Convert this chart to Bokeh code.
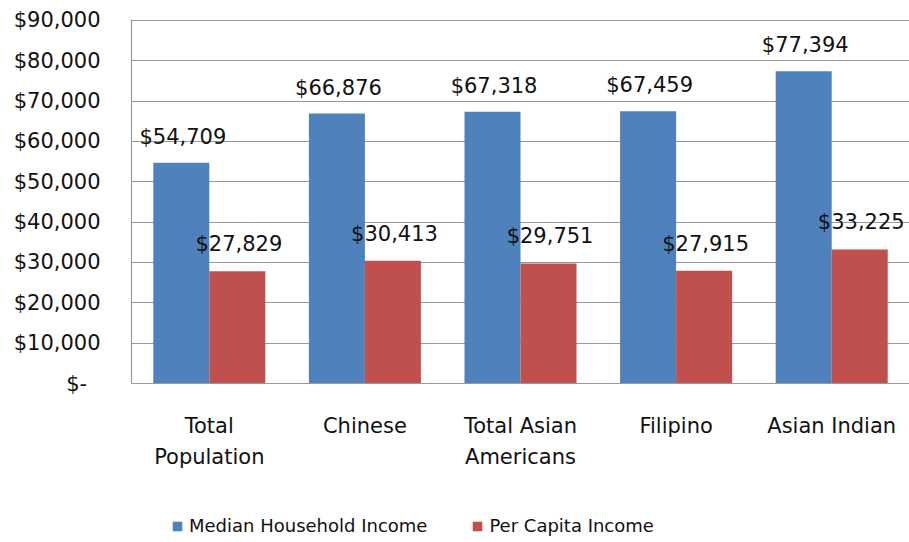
from bokeh.plotting import figure
from bokeh.layouts import column
from bokeh.models import ColumnDataSource, FactorRange, Legend, LegendItem
from bokeh.transform import dodge
from bokeh.embed import file_html
from bokeh.resources import INLINE

categories = ["Total\nPopulation", "Chinese", "Total Asian\nAmericans", "Filipino", "Asian Indian"]
median_household = [54709, 66876, 67318, 67459, 77394]
per_capita = [27829, 30413, 29751, 27915, 33225]
series_names = ["Median Household Income", "Per Capita Income"]
y_ticks = [0, 10000, 20000, 30000, 40000, 50000, 60000, 70000, 80000, 90000]
y_tick_labels = ["$-\u00a0\u00a0", "$10,000", "$20,000", "$30,000", "$40,000", "$50,000",
                 "$60,000", "$70,000", "$80,000", "$90,000"]

FONT = "DejaVu Sans"
BLUE = "#4F81BD"
RED = "#C0504D"

src = ColumnDataSource(dict(
    cat=categories,
    mhi=median_household,
    pci=per_capita,
    mhi_lbl=["${:,}".format(v) for v in median_household],
    pci_lbl=["${:,}".format(v) for v in per_capita],
))

p = figure(width=909, height=490, x_range=FactorRange(*categories, range_padding=0),
           y_range=(0, 90200), output_backend="svg", toolbar_location=None,
           min_border_left=131, min_border_right=0, min_border_top=19, min_border_bottom=107)
p.x_range.factor_padding = 0

bw = 0.36
p.vbar(x=dodge("cat", -bw / 2, range=p.x_range), top="mhi", width=bw, source=src,
       fill_color=BLUE, line_color=None)
p.vbar(x=dodge("cat", bw / 2, range=p.x_range), top="pci", width=bw, source=src,
       fill_color=RED, line_color=None)

p.text(x=dodge("cat", -bw / 2 + 0.01, range=p.x_range), y="mhi", text="mhi_lbl", source=src,
       text_align="center", text_baseline="middle", y_offset=-26,
       text_font={"value": FONT}, text_font_size="21px", text_color="#111111")
p.text(x=dodge("cat", bw / 2 + 0.01, range=p.x_range), y="pci", text="pci_lbl", source=src,
       text_align="center", text_baseline="middle", y_offset=-27,
       text_font={"value": FONT}, text_font_size="21px", text_color="#111111")

p.outline_line_color = None
p.xgrid.grid_line_color = None
p.ygrid.grid_line_color = "#9a9a9a"
p.ygrid.grid_line_width = 1.2
p.yaxis.ticker = y_ticks
p.yaxis.major_label_overrides = {t: l for t, l in zip(y_ticks, y_tick_labels)}

for ax in (p.xaxis, p.yaxis):
    ax.axis_line_color = "#9a9a9a"
    ax.axis_line_width = 1.2
    ax.major_tick_line_color = None
    ax.minor_tick_line_color = None
    ax.major_tick_out = 0
    ax.major_tick_in = 0
    ax.major_label_text_font = FONT
    ax.major_label_text_font_size = "21px"
    ax.major_label_text_color = "#111111"

p.yaxis.major_label_standoff = 31
p.xaxis.major_label_standoff = 30
p.xaxis.major_label_text_line_height = 1.3

# legend strip below the chart (its frame is aligned with the chart's frame)
lf = figure(width=909, height=52, x_range=(0, 1), y_range=(0, 1),
            x_axis_type=None, y_axis_type=None, output_backend="svg", toolbar_location=None,
            min_border_left=131, min_border_right=0, min_border_top=0, min_border_bottom=0)
lf.outline_line_color = None
lf.xgrid.grid_line_color = None
lf.ygrid.grid_line_color = None
offscreen = ColumnDataSource(dict(x=[5], top=[0.5]))
l1 = lf.vbar(x="x", top="top", width=0.1, source=offscreen, fill_color=BLUE, line_color=None)
l2 = lf.vbar(x="x", top="top", width=0.1, source=offscreen, fill_color=RED, line_color=None)
legend = Legend(items=[LegendItem(label=series_names[0], renderers=[l1]),
                       LegendItem(label=series_names[1], renderers=[l2])],
                orientation="horizontal", location=(40, 6),
                label_text_font=FONT, label_text_font_size="18px", label_text_color="#111111",
                glyph_width=12, glyph_height=12, label_standoff=6, spacing=44,
                padding=0, margin=0, border_line_color=None, background_fill_alpha=0)
lf.add_layout(legend, "center")

layout = column(p, lf, spacing=0)
open("out.html", "w").write(file_html(layout, INLINE))
